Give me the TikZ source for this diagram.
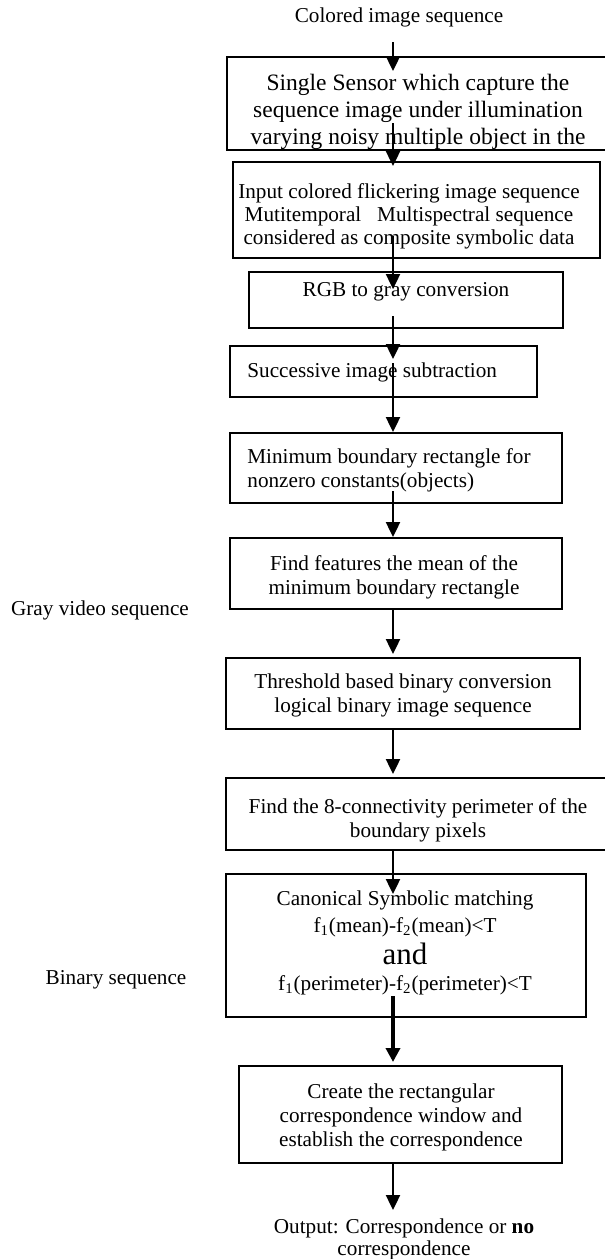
\documentclass[tikz,border=0pt]{standalone}
\usepackage{fontspec}
\setmainfont{Liberation Serif}
\usetikzlibrary{arrows.meta,calc}
\begin{document}
\begin{tikzpicture}[x=0.5pt,y=-0.5pt,
  box/.style={draw,line width=1pt,rectangle,inner sep=0pt},
  txt/.style={inner sep=0pt,align=center,font=\fontsize{10.6}{12}\selectfont},
  ltxt/.style={txt,align=left,anchor=west},
  arr/.style={line width=1.2pt,-{Triangle[length=7.5pt,width=7pt]}},
  thickarr/.style={line width=2.2pt,-{Triangle[length=7pt,width=7pt]}}]
\useasboundingbox (0,0) rectangle (605,1259);

% boxes
\node[box,minimum width=190.5pt,minimum height=46.5pt] (b1) at (417.5,103.5) {};
\node[box,minimum width=183.5pt,minimum height=48pt] (b2) at (416.5,210) {};
\node[box,minimum width=157pt,minimum height=28pt] (b3) at (406,300) {};
\node[box,minimum width=153.5pt,minimum height=25.5pt] (b4) at (383.5,371.5) {};
\node[box,minimum width=166pt,minimum height=35pt] (b5) at (396,468) {};
\node[box,minimum width=166pt,minimum height=35.5pt] (b6) at (396,573.5) {};
\node[box,minimum width=177pt,minimum height=35.5pt] (b7) at (403,693.5) {};
\node[box,minimum width=192pt,minimum height=36pt] (b8) at (418,814) {};
\node[box,minimum width=180pt,minimum height=71.5pt] (b9) at (406,945.5) {};
\node[box,minimum width=161.5pt,minimum height=48.5pt] (b10) at (400.5,1114.5) {};

% box texts
\node[txt,font=\fontsize{11.75}{13.5}\selectfont] (t1) at (418,112)
  {Single Sensor which capture the\\sequence image under illumination\\varying noisy multiple object in the};
\node[txt,font=\fontsize{10.6}{11.6}\selectfont] (t2) at (409,216.5)
  {Input colored flickering image sequence\\Mutitemporal\ \ \ Multispectral sequence\\considered as composite symbolic data};
\node[txt] (t3) at (406,292) {RGB to gray conversion};
\node[ltxt] (t4) at (247,372) {Successive image subtraction};
\node[ltxt] (t5) at (247,470) {Minimum boundary rectangle for\\nonzero constants(objects)};
\node[txt] (t6) at (394,577.5) {Find features the mean of the\\minimum boundary rectangle};
\node[txt] (t7) at (403,695) {Threshold based binary conversion\\logical binary image sequence};
\node[txt] (t8) at (418,820) {Find the 8-connectivity perimeter of the\\boundary pixels};
\node[txt,font=\fontsize{10.6}{13.5}\selectfont] (t9) at (405,942.5)
  {Canonical Symbolic matching\\
   f\textsubscript{1}(mean)-f\textsubscript{2}(mean)<T\\[2.5pt]
   {\fontsize{15.5}{15}\selectfont and}\\[-0.5pt]
   f\textsubscript{1}(perimeter)-f\textsubscript{2}(perimeter)<T};
\node[txt] (t10) at (401,1117)
  {Create the rectangular\\correspondence window and\\establish the correspondence};

% labels
\node[txt] (top) at (399,17) {Colored image sequence};
\node[txt,font=\fontsize{10.6}{11}\selectfont] (out) at (404,1239) {Output: Correspondence or \textbf{no}\\correspondence};
\node[txt] (gray) at (100,610) {Gray video sequence};
\node[txt] (bin) at (116,980) {Binary sequence};

% arrows on a common axis
\coordinate (ax) at (393,0);
\draw[arr] ($(top.south -| ax)+(0,15)$) -- ($(b1.north -| ax)+(0,15)$);
\draw[arr] ($(b1.south -| ax)+(0,-28)$) -- ($(b2.north -| ax)+(0,5)$);
\draw[arr] ($(b2.south -| ax)+(0,-23)$) -- ($(b3.north -| ax)+(0,18)$);
\draw[arr] ($(b3.south -| ax)+(0,-13)$) -- ($(b4.north -| ax)+(0,14)$);
\draw[arr] ($(b4.south -| ax)+(0,-35)$) -- (b5.north -| ax);
\draw[arr] ($(b5.south -| ax)+(0,-13)$) -- (b6.north -| ax);
\draw[arr] (b6.south -| ax) -- ($(b7.north -| ax)+(0,-3)$);
\draw[arr] (b7.south -| ax) -- ($(b8.north -| ax)+(0,-3)$);
\draw[arr] (b8.south -| ax) -- ($(b9.north -| ax)+(0,21)$);
\draw[thickarr] ($(b9.south -| ax)+(0,-22)$) -- ($(b10.north -| ax)+(0,-3)$);
\draw[arr] (b10.south -| ax) -- ($(out.north -| ax)+(0,-8)$);
\end{tikzpicture}
\end{document}
